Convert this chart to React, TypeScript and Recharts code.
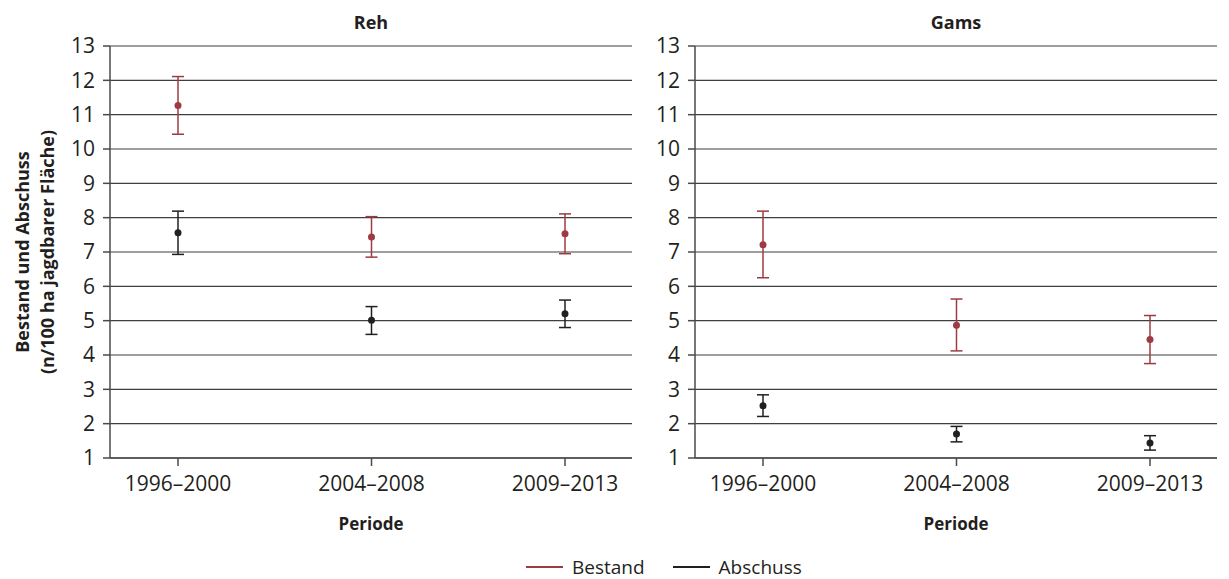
import { LineChart, Line, XAxis, YAxis, CartesianGrid, ErrorBar, Label } from 'recharts';

const periods = ['1996–2000', '2004–2008', '2009–2013'];
const yTicks = [1, 2, 3, 4, 5, 6, 7, 8, 9, 10, 11, 12, 13];

// Reh
const rehBestand = [11.27, 7.44, 7.53];
const rehBestandLow = [10.43, 6.85, 6.95];
const rehBestandHigh = [12.11, 8.03, 8.11];
const rehAbschuss = [7.56, 5.01, 5.2];
const rehAbschussLow = [6.93, 4.6, 4.8];
const rehAbschussHigh = [8.19, 5.41, 5.6];

// Gams
const gamsBestand = [7.21, 4.87, 4.45];
const gamsBestandLow = [6.25, 4.12, 3.75];
const gamsBestandHigh = [8.19, 5.63, 5.15];
const gamsAbschuss = [2.52, 1.7, 1.44];
const gamsAbschussLow = [2.21, 1.47, 1.23];
const gamsAbschussHigh = [2.84, 1.92, 1.65];

const RED = '#9e3b42';
const BLACK = '#231f20';
const GRID = '#3f3f3f';
const AXIS = '#4a4a4a';
const FONT = "'Open Sans', sans-serif";

function buildRows(
  b: number[], bLo: number[], bHi: number[],
  a: number[], aLo: number[], aHi: number[],
) {
  return periods.map((period, i) => ({
    period,
    bestand: b[i],
    bestandErr: [b[i] - bLo[i], bHi[i] - b[i]],
    abschuss: a[i],
    abschussErr: [a[i] - aLo[i], aHi[i] - a[i]],
  }));
}

const rehData = buildRows(rehBestand, rehBestandLow, rehBestandHigh, rehAbschuss, rehAbschussLow, rehAbschussHigh);
const gamsData = buildRows(gamsBestand, gamsBestandLow, gamsBestandHigh, gamsAbschuss, gamsAbschussLow, gamsAbschussHigh);

const YLabelText = () => (
  <g fill={BLACK} fontFamily={FONT} fontSize={18} fontWeight={700}>
    <text transform="translate(29,252) rotate(-90)" textAnchor="middle">
      Bestand und Abschuss
    </text>
    <text transform="translate(54,252) rotate(-90)" textAnchor="middle">
      (n/100 ha jagdbarer Fläche)
    </text>
  </g>
);

interface PanelProps {
  title: string;
  data: ReturnType<typeof buildRows>;
  left: number;
  width: number;
  yAxisWidth: number;
  marginRight: number;
  showYLabel?: boolean;
}

function Panel({ title, data, left, width, yAxisWidth, marginRight, showYLabel }: PanelProps) {
  const plotCenter = yAxisWidth + (width - yAxisWidth - marginRight) / 2;
  return (
    <div style={{ position: 'absolute', left, top: 0, width, height: 545 }}>
      <div
        style={{
          position: 'absolute',
          top: 13,
          left: plotCenter - 100,
          width: 200,
          textAlign: 'center',
          fontFamily: FONT,
          fontSize: 18,
          lineHeight: '18px',
          fontWeight: 700,
          color: BLACK,
        }}
      >
        {title}
      </div>
      <LineChart width={width} height={545} data={data} margin={{ top: 46, right: marginRight, bottom: 15, left: 0 }}>
        <CartesianGrid vertical={false} stroke={GRID} strokeWidth={1.2} />
        <XAxis
          dataKey="period"
          scale="point"
          padding={{ left: 68, right: 67 }}
          interval={0}
          height={72}
          tickSize={8}
          tickMargin={10}
          axisLine={{ stroke: AXIS, strokeWidth: 1.5 }}
          tickLine={{ stroke: AXIS, strokeWidth: 1.5 }}
          tick={{ fill: BLACK, fontSize: 21, fontFamily: FONT }}
        >
          <Label value="Periode" position="insideBottom" offset={0} fill={BLACK} fontSize={17} fontWeight={700} fontFamily={FONT} />
        </XAxis>
        <YAxis
          domain={[1, 13]}
          ticks={yTicks}
          interval={0}
          width={yAxisWidth}
          tickSize={7}
          tickMargin={8}
          axisLine={{ stroke: AXIS, strokeWidth: 1.5 }}
          tickLine={{ stroke: AXIS, strokeWidth: 1.5 }}
          tick={{ fill: BLACK, fontSize: 21, fontFamily: FONT }}
        >
          {showYLabel && <Label content={() => <YLabelText />} />}
        </YAxis>
        <YAxis
          yAxisId="frame"
          orientation="right"
          domain={[1, 13]}
          width={0}
          tick={false}
          tickLine={false}
          axisLine={{ stroke: AXIS, strokeWidth: 1.5 }}
        />
        <Line
          dataKey="bestand"
          name="Bestand"
          stroke="none"
          dot={{ r: 3.5, fill: RED, stroke: RED, strokeWidth: 0 }}
          activeDot={false}
          isAnimationActive={false}
        >
          <ErrorBar dataKey="bestandErr" direction="y" width={6} stroke={RED} strokeWidth={1.5} isAnimationActive={false} />
        </Line>
        <Line
          dataKey="abschuss"
          name="Abschuss"
          stroke="none"
          dot={{ r: 3.5, fill: BLACK, stroke: BLACK, strokeWidth: 0 }}
          activeDot={false}
          isAnimationActive={false}
        >
          <ErrorBar dataKey="abschussErr" direction="y" width={6} stroke={BLACK} strokeWidth={1.5} isAnimationActive={false} />
        </Line>
      </LineChart>
    </div>
  );
}

const legendItems = [
  { label: 'Bestand', color: RED },
  { label: 'Abschuss', color: BLACK },
];

export default function App() {
  return (
    <div style={{ position: 'absolute', left: 0, top: 0, width: 1229, height: 579, background: '#fff', overflow: 'hidden' }}>
      <Panel title="Reh" data={rehData} left={0} width={640} yAxisWidth={110} marginRight={8} showYLabel />
      <Panel title="Gams" data={gamsData} left={640} width={589} yAxisWidth={55} marginRight={12} />
      <div
        style={{
          position: 'absolute',
          top: 557,
          left: 526,
          display: 'flex',
          alignItems: 'center',
          fontFamily: FONT,
          fontSize: 19,
          lineHeight: '20px',
          color: BLACK,
          whiteSpace: 'nowrap',
        }}
      >
        {legendItems.map((item) => (
          <div key={item.label} style={{ display: 'flex', alignItems: 'center', marginRight: 28 }}>
            <svg width={37} height={4} style={{ marginRight: 9 }}>
              <line x1={0} y1={2} x2={37} y2={2} stroke={item.color} strokeWidth={2} />
            </svg>
            <span>{item.label}</span>
          </div>
        ))}
      </div>
    </div>
  );
}
